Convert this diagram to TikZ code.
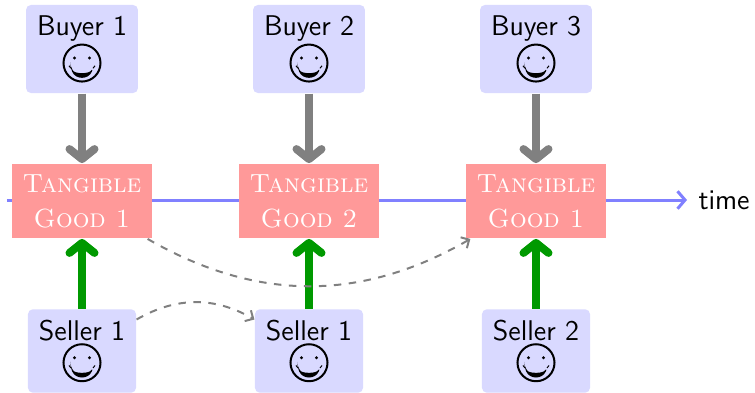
\documentclass[tikz,border=0pt]{standalone}
\usepackage{fontspec}
\usetikzlibrary{arrows.meta}
\definecolor{boxblue}{RGB}{217,217,255}
\definecolor{goodred}{RGB}{255,153,153}
\definecolor{timeblue}{RGB}{128,128,255}
\definecolor{arrowgreen}{RGB}{0,153,0}
\newcommand{\myface}{\tikz[baseline=-7.8pt,x=1pt,y=1pt]{%
  \useasboundingbox (-7.8,-7.8) rectangle (7.8,7.8);
  \draw[black,fill=none,line width=0.8pt] (0,0) circle[radius=7.4];
  \fill[black] (-3,2) circle[radius=0.65] (3,2) circle[radius=0.65];
  \fill[black] (-4.7,-1.7) .. controls (-2.5,-6.7) and (2.5,-6.7) .. (4.7,-1.7)
     .. controls (2.5,-4.3) and (-2.5,-4.3) .. cycle;
  \draw[black,line width=0.4pt] (-5.2,-1.1) -- (-4.4,-2.1) (5.2,-1.1) -- (4.4,-2.1);
}}
\begin{document}
\begin{tikzpicture}[x=0.4pt, y=0.4pt,
  agent/.style={fill=boxblue, rounded corners=2pt, align=center,
    font=\fontsize{11.4}{14}\selectfont\sffamily, inner xsep=4.4pt, inner ysep=4.2pt},
  good/.style={fill=goodred, text=white, align=center,
    font=\fontsize{10.5}{14}\selectfont\scshape, inner xsep=4.4pt, inner ysep=4.3pt},
  timelabel/.style={font=\fontsize{11.4}{14}\selectfont\sffamily, inner sep=4.4pt},
  timeline/.style={draw=timeblue, line width=1.2pt, -{Straight Barb[length=3pt,width=7pt]}},
  buyarrow/.style={draw=gray, line width=3.2pt, -{Straight Barb[length=4pt,width=10pt,round]}},
  sellarrow/.style={draw=arrowgreen, line width=3.2pt, -{Straight Barb[length=4pt,width=10pt,round]}},
  dasharrow/.style={draw=gray, thick, dashed, -{Straight Barb[length=2.5pt,width=5pt]}}
]
\useasboundingbox (0,0) rectangle (755,-393);
% time line
\coordinate (tstart) at (7,-200);
\node[timelabel, anchor=west] (time) at (687,-200) {time};
\draw[timeline] (tstart) -- (time.west);
% goods
\node[good] (g1) at (82,-201) {Tangible\\Good 1};
\node[good] (g2) at (309,-201) {Tangible\\Good 2};
\node[good] (g3) at (536,-201) {Tangible\\Good 1};
% buyers
\node[agent] (b1) at (82,-49) {Buyer 1\\\myface};
\node[agent] (b2) at (309,-49) {Buyer 2\\\myface};
\node[agent] (b3) at (536,-49) {Buyer 3\\\myface};
% sellers
\node[agent] (s1) at (82,-351) {Seller 1\\\myface};
\node[agent] (s2) at (309,-351) {Seller 1\\\myface};
\node[agent] (s3) at (536,-351) {Seller 2\\\myface};
% arrows
\draw[buyarrow] (b1) -- (g1);
\draw[buyarrow] (b2) -- (g2);
\draw[buyarrow] (b3) -- (g3);
\draw[sellarrow] (s1) -- (g1);
\draw[sellarrow] (s2) -- (g2);
\draw[sellarrow] (s3) -- (g3);
\draw[dasharrow] (g1) to[bend right=30] (g3);
\draw[dasharrow] (s1) to[bend left=30] (s2);
\end{tikzpicture}
\end{document}
